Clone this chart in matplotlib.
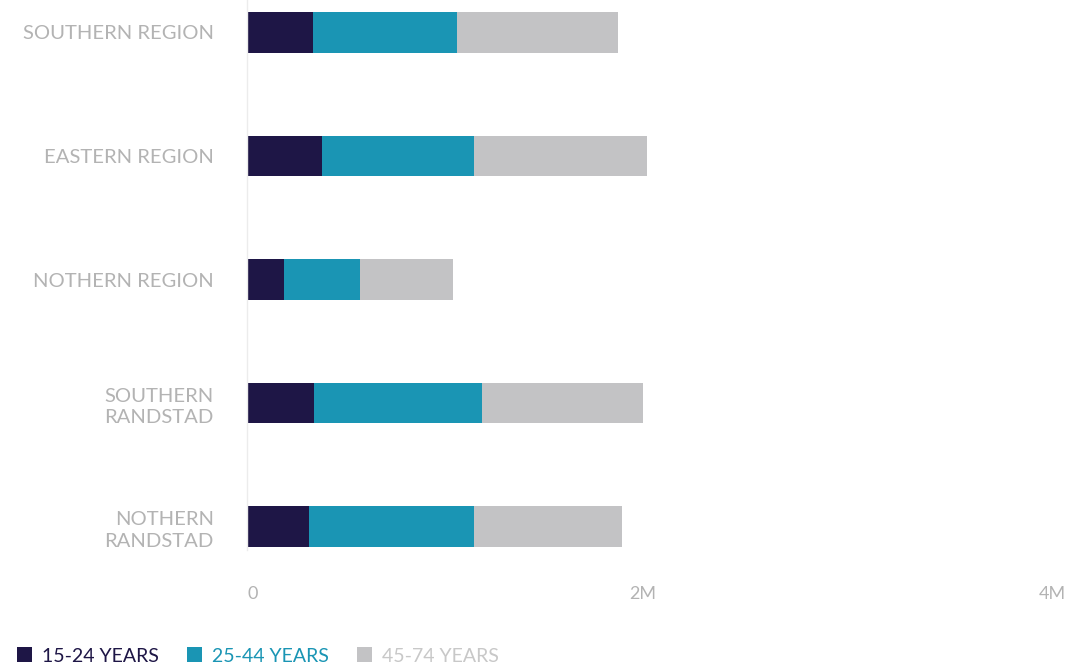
import matplotlib
matplotlib.use("Agg")
import matplotlib.pyplot as plt
from matplotlib.patches import Patch

# Population by age group per region (millions)
regions = ["SOUTHERN REGION", "EASTERN REGION", "NOTHERN REGION",
           "SOUTHERN\nRANDSTAD", "NOTHERN\nRANDSTAD"]
age_15_24 = [0.333, 0.379, 0.187, 0.338, 0.313]
age_25_44 = [0.727, 0.768, 0.384, 0.848, 0.833]
age_45_74 = [0.813, 0.874, 0.470, 0.813, 0.747]
series_names = ["15-24 YEARS", "25-44 YEARS", "45-74 YEARS"]
series_colors = ["#1e1646", "#1a95b4", "#c3c3c5"]
x_ticks = [0, 2, 4]
x_tick_labels = ["0", "2M", "4M"]

plt.rcParams["font.family"] = ["Lato", "DejaVu Sans"]

W, H = 1074, 667
fig = plt.figure(figsize=(W / 100, H / 100), dpi=100)
ax_left, ax_right, ax_top, ax_bottom = 247, 1039, 0, 550
ax = fig.add_axes([ax_left / W, 1 - ax_bottom / H,
                   (ax_right - ax_left) / W, (ax_bottom - ax_top) / H])

ypos = list(range(len(regions)))
bar_h = 0.325
left = [0.0] * len(regions)
for vals, name, col in zip([age_15_24, age_25_44, age_45_74], series_names, series_colors):
    ax.barh(ypos, vals, left=left, height=bar_h, color=col, label=name, linewidth=0)
    left = [l + v for l, v in zip(left, vals)]

ax.set_xlim(0, 4)
ax.set_ylim(4.19, -0.263)

for s in ["top", "right", "bottom"]:
    ax.spines[s].set_visible(False)
ax.spines["left"].set_color("#ececec")
ax.spines["left"].set_linewidth(1.0)

ax.set_yticks(ypos)
ax.set_yticklabels(regions, fontsize=14.6, color="#b3b3b3", linespacing=1.35)
ax.tick_params(axis="y", length=0, pad=24)
for lbl in ax.get_yticklabels():
    lbl.set_horizontalalignment("right")
    lbl.set_multialignment("right")

ax.set_xticks(x_ticks)
ax.set_xticklabels(x_tick_labels, fontsize=13, color="#b3b3b3")
ax.tick_params(axis="x", length=0, pad=26)
xl = ax.get_xticklabels()
xl[0].set_horizontalalignment("left")
xl[-1].set_horizontalalignment("left")

handles = [Patch(facecolor=c, edgecolor="none") for c in series_colors]
leg = fig.legend(handles, series_names, loc="center left",
                 bbox_to_anchor=(9 / W, 1 - 656 / H), ncol=3, frameon=False,
                 fontsize=14.0, labelcolor=["#1e1646", "#1a95b4", "#c8c8c8"],
                 handlelength=0.78, handleheight=0.78, handletextpad=0.5,
                 columnspacing=1.45, borderaxespad=0)

fig.savefig("out.png", dpi=100)
